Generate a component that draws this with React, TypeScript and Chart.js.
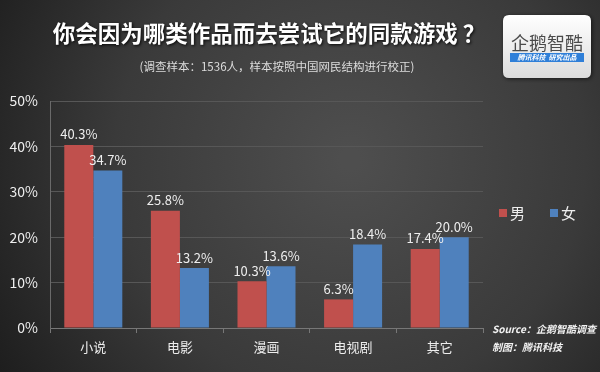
import React, { useEffect, useRef } from "react";
import { Chart, registerables } from "chart.js";

Chart.register(...registerables);

const categories = ["小说", "电影", "漫画", "电视剧", "其它"];
const maleValues = [40.3, 25.8, 10.3, 6.3, 17.4];
const femaleValues = [34.7, 13.2, 13.6, 18.4, 20.0];
const seriesNames = ["男", "女"];
const seriesColors = ["#c0504d", "#4f81bd"];
const yTicks = [0, 10, 20, 30, 40, 50];

const titleText = "你会因为哪类作品而去尝试它的同款游戏 ？";
const subtitleText = "(调查样本：1536人，样本按照中国网民结构进行校正)";
const sourceLines = ["Source：企鹅智酷调查", "制图：腾讯科技"];
const logoMain = "企鹅智酷";
const logoSub = "腾讯科技  研究出品";

const FONT = '"Noto Sans CJK SC", "Noto Sans", sans-serif';

const decorPlugin = {
  id: "decor",
  beforeDraw(chart: any) {
    const { ctx, width, height } = chart;
    ctx.save();
    const g = ctx.createRadialGradient(350, 160, 10, 350, 160, 420);
    g.addColorStop(0, "#4e4e4e");
    g.addColorStop(0.55, "#3a3a3a");
    g.addColorStop(1, "#1c1c1c");
    ctx.fillStyle = g;
    ctx.fillRect(0, 0, width, height);
    ctx.restore();
  },
  afterDraw(chart: any) {
    const { ctx } = chart;
    ctx.save();
    // title
    ctx.font = `bold 22.5px ${FONT}`;
    ctx.textAlign = "center";
    ctx.textBaseline = "middle";
    ctx.shadowColor = "rgba(0,0,0,0.9)";
    ctx.shadowBlur = 3;
    ctx.shadowOffsetX = 1;
    ctx.shadowOffsetY = 1;
    ctx.fillStyle = "#ffffff";
    ctx.fillText(titleText, 269, 33);
    ctx.shadowColor = "transparent";
    // subtitle
    ctx.font = `11.5px ${FONT}`;
    ctx.fillStyle = "#dddddd";
    ctx.fillText(subtitleText, 277, 67);

    // logo box
    ctx.shadowColor = "rgba(0,0,0,0.6)";
    ctx.shadowBlur = 4;
    ctx.shadowOffsetX = 1;
    ctx.shadowOffsetY = 1;
    const lx = 503, ly = 15, lw = 88, lh = 63, r = 6;
    const lg = ctx.createLinearGradient(0, ly, 0, ly + lh);
    lg.addColorStop(0, "#ffffff");
    lg.addColorStop(1, "#dcdcdc");
    ctx.fillStyle = lg;
    ctx.beginPath();
    ctx.moveTo(lx + r, ly);
    ctx.lineTo(lx + lw - r, ly);
    ctx.quadraticCurveTo(lx + lw, ly, lx + lw, ly + r);
    ctx.lineTo(lx + lw, ly + lh - r);
    ctx.quadraticCurveTo(lx + lw, ly + lh, lx + lw - r, ly + lh);
    ctx.lineTo(lx + r, ly + lh);
    ctx.quadraticCurveTo(lx, ly + lh, lx, ly + lh - r);
    ctx.lineTo(lx, ly + r);
    ctx.quadraticCurveTo(lx, ly, lx + r, ly);
    ctx.closePath();
    ctx.fill();
    ctx.shadowColor = "transparent";
    ctx.font = `18px ${FONT}`;
    ctx.fillStyle = "#4a4a4a";
    ctx.textAlign = "center";
    ctx.fillText(logoMain, lx + lw / 2, 43);
    ctx.fillStyle = "#2f7fd8";
    ctx.fillRect(lx + 7, 53, lw - 14, 9);
    ctx.font = `italic bold 7px ${FONT}`;
    ctx.fillStyle = "#ffffff";
    ctx.fillText(logoSub, lx + lw / 2, 57.5);

    // legend
    const ds = chart.data.datasets;
    const legendX = [499, 550];
    ctx.font = `15px ${FONT}`;
    ctx.textAlign = "left";
    ds.forEach((d: any, i: number) => {
      ctx.fillStyle = d.backgroundColor;
      ctx.fillRect(legendX[i], 209, 8, 8);
      ctx.fillStyle = "#eeeeee";
      ctx.fillText(d.label, legendX[i] + 11, 213);
    });

    // source
    ctx.font = `italic bold 10px ${FONT}`;
    ctx.fillStyle = "#f2f2f2";
    ctx.fillText(sourceLines[0], 492, 329);
    ctx.fillText(sourceLines[1], 492, 347);
    ctx.restore();
  },
  afterDatasetsDraw(chart: any) {
    const { ctx } = chart;
    ctx.save();
    ctx.font = `13px ${FONT}`;
    ctx.fillStyle = "#eeeeee";
    ctx.textAlign = "center";
    ctx.textBaseline = "bottom";
    chart.data.datasets.forEach((d: any, i: number) => {
      const meta = chart.getDatasetMeta(i);
      meta.data.forEach((el: any, j: number) => {
        ctx.fillText(d.data[j].toFixed(1) + "%", el.x, el.y - 4);
      });
    });
    ctx.restore();
  },
};

export default function App() {
  const ref = useRef<HTMLCanvasElement | null>(null);
  useEffect(() => {
    document.body.style.margin = "0";
    const canvas = ref.current!;
    const chart = new Chart(canvas, {
      type: "bar",
      data: {
        labels: categories,
        datasets: [
          { label: seriesNames[0], data: maleValues, backgroundColor: seriesColors[0] },
          { label: seriesNames[1], data: femaleValues, backgroundColor: seriesColors[1] },
        ],
      },
      options: {
        responsive: false,
        animation: false,
        devicePixelRatio: 1,
        layout: { padding: { left: 0, right: 117, top: 101, bottom: 0 } },
        datasets: { bar: { categoryPercentage: 0.67, barPercentage: 1.0 } },
        plugins: { legend: { display: false }, tooltip: { enabled: false }, title: { display: false } },
        scales: {
          x: {
            offset: true,
            grid: {
              display: true,
              drawOnChartArea: false,
              drawTicks: true,
              tickLength: 5,
              color: "#777777",
              offset: true,
            },
            border: { display: true, color: "#777777" },
            ticks: { color: "#eeeeee", font: { size: 13, family: FONT }, padding: 6 },
            afterFit: (s: any) => { s.height = 44; },
          },
          y: {
            min: 0,
            max: 50,
            afterBuildTicks: (s: any) => { s.ticks = yTicks.map((v) => ({ value: v })); },
            grid: { color: "#575757", drawTicks: false },
            border: { display: true, color: "#6a6a6a" },
            ticks: {
              color: "#eeeeee",
              font: { size: 14, family: FONT },
              padding: 12,
              callback: (v: any) => v + "%",
            },
            afterFit: (s: any) => { s.width = 50; },
          },
        },
      },
      plugins: [decorPlugin],
    });
    return () => chart.destroy();
  }, []);
  return (
    <div style={{ width: 600, height: 372 }}>
      <canvas ref={ref} width={600} height={372} style={{ display: "block" }} />
    </div>
  );
}
